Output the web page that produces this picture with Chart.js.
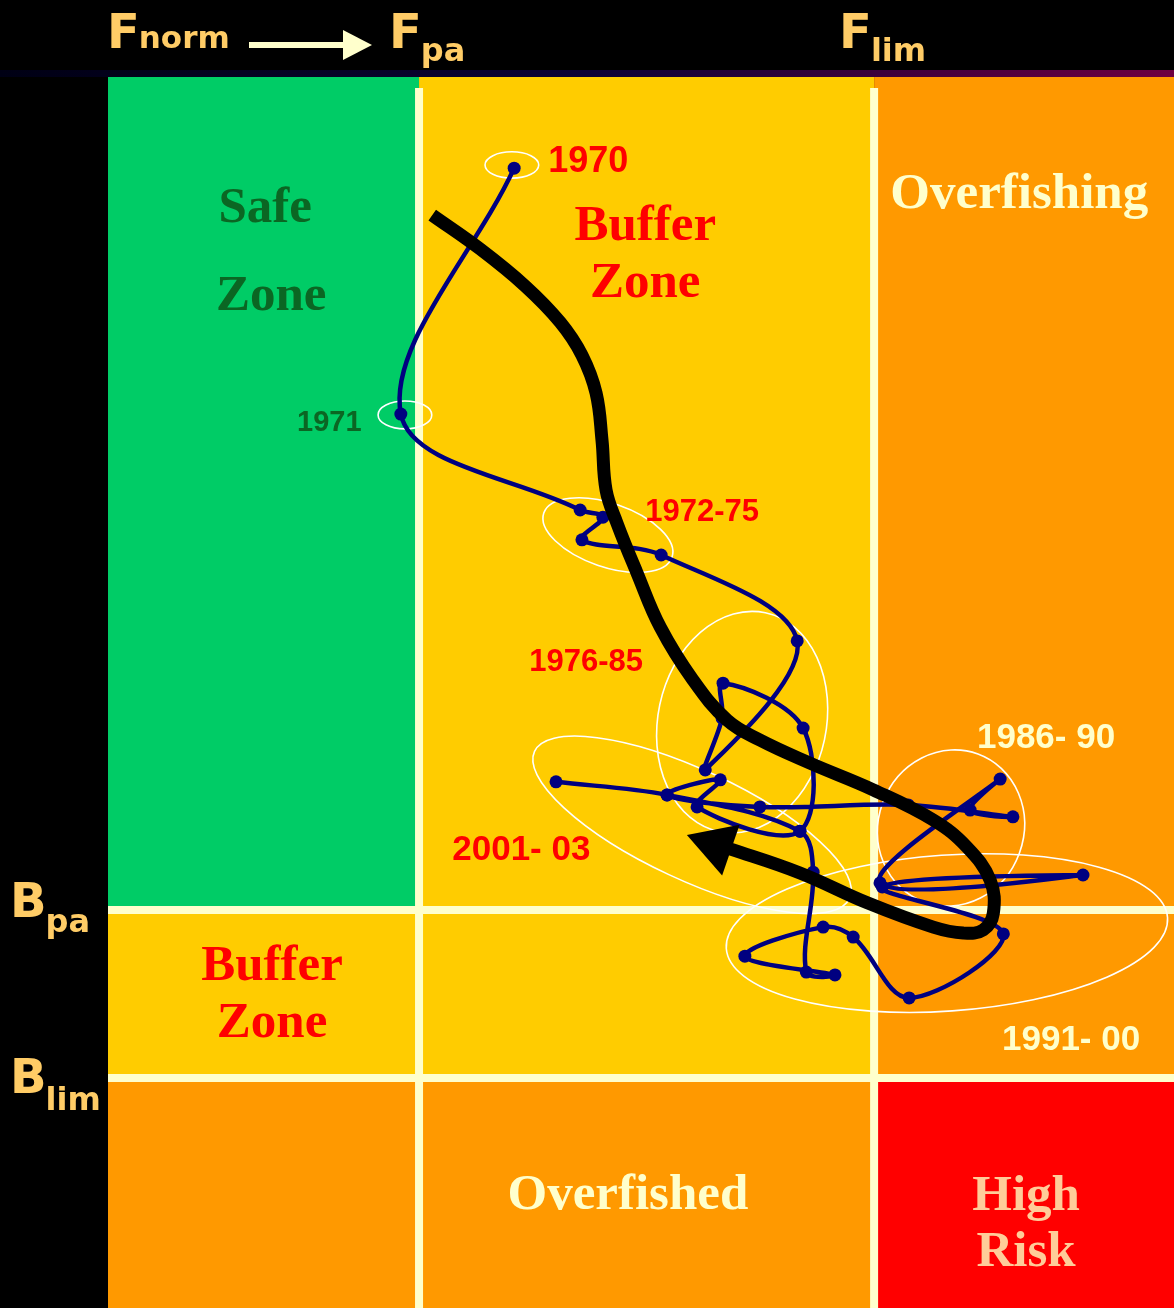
<!DOCTYPE html>
<html>
<head>
<meta charset="utf-8">
<title>Stock trajectory against precautionary reference points</title>
<script src="https://cdn.jsdelivr.net/npm/chart.js@4.4.1/dist/chart.umd.min.js"></script>
<style>
  html, body { margin: 0; padding: 0; background: #000; }
  #wrap { width: 1174px; height: 1308px; }
</style>
</head>
<body>
<div id="wrap"><canvas id="paChart" width="1174" height="1308"></canvas></div>
<script>
// reference points (F relative to Fpa, B relative to Bpa)
const F_PA = 1.0;
const F_LIM = 2.0;
const B_PA = 1.0;
const B_LIM = 0.578;
const F_RANGE = [0.3165, 2.659];
const B_RANGE = [0, 3.093];

// yearly stock trajectory
const years = [1970, 1971, 1972, 1973, 1974, 1975, 1976, 1977, 1978, 1979,
  1980, 1981, 1982, 1983, 1984, 1985, 1986, 1987, 1988, 1989,
  1990, 1991, 1992, 1993, 1994, 1995, 1996, 1997, 1998, 1999,
  2000, 2001, 2002, 2003];
const fishing = [1.209, 0.960, 1.354, 1.404, 1.358, 1.532, 1.831, 1.629, 1.666, 1.668,
  1.844, 1.837, 1.611, 1.662, 1.545, 1.749, 2.075, 2.305, 2.211, 2.277,
  2.013, 2.459, 2.018, 2.284, 2.077, 1.954, 1.888, 1.716, 1.914, 1.851,
  1.866, 1.837, 1.545, 1.301];
const biomass = [2.864, 2.246, 2.005, 1.987, 1.930, 1.892, 1.676, 1.352, 1.482, 1.570,
  1.457, 1.198, 1.259, 1.327, 1.289, 1.259, 1.264, 1.234, 1.251, 1.329,
  1.068, 1.088, 1.058, 0.940, 0.779, 0.932, 0.957, 0.884, 0.837, 0.844,
  1.095, 1.198, 1.289, 1.322];

// overall trend (thick black arrow)
const trendF = [1.029, 1.134, 1.233, 1.310, 1.358, 1.389, 1.402, 1.411, 1.435, 1.479,
  1.530, 1.602, 1.677, 1.749, 1.859, 1.998, 2.130, 2.204, 2.255, 2.262,
  2.240, 2.196, 2.130, 1.985, 1.837, 1.690, 1.653];
const trendB = [2.746, 2.661, 2.568, 2.477, 2.394, 2.299, 2.181, 2.055, 1.972, 1.847,
  1.711, 1.578, 1.477, 1.427, 1.369, 1.302, 1.226, 1.158, 1.075, 0.992,
  0.950, 0.942, 0.957, 1.018, 1.093, 1.151, 1.163];

// period groups (white ellipses) and their labels
const groupNames = ["1970", "1971", "1972-75", "1976-85", "2001- 03", "1986- 90", "1991- 00"];
const groupF = [1.204, 0.969, 1.415, 1.710, 1.600, 2.169, 2.160];
const groupB = [2.872, 2.244, 1.942, 1.472, 1.214, 1.206, 0.942];
const groupSpanF = [0.059, 0.059, 0.149, 0.185, 0.382, 0.160, 0.486];
const groupSpanB = [0.033, 0.035, 0.080, 0.281, 0.138, 0.198, 0.196];
const groupTilt = [0, 0, 19, 12, 25, 20, -4];
const groupLabelF = [1.284, 0.732, 1.497, 1.242, 1.073, 2.226, 2.281];
const groupLabelB = [2.854, 2.204, 1.977, 1.600, 1.126, 1.407, 0.648];
const groupLabelColor = ["#ff0000", "#0b6623", "#ff0000", "#ff0000", "#ff0000", "#ffffcc", "#ffffcc"];
const groupLabelSize = [36, 29, 31, 31, 35, 35, 35];

// zone names
const zoneText = ["Safe", "Zone", "Buffer", "Zone", "Overfishing", "Buffer", "Zone", "Overfished", "High", "Risk"];
const zoneTextF = [0.662, 0.675, 1.497, 1.497, 2.319, 0.677, 0.677, 1.459, 2.334, 2.334];
const zoneTextB = [2.729, 2.508, 2.683, 2.540, 2.764, 0.824, 0.681, 0.249, 0.246, 0.106];
const zoneTextColor = ["#0b6623", "#0b6623", "#ff0000", "#ff0000", "#ffffcc",
  "#ff0000", "#ff0000", "#ffffcc", "#ffcc99", "#ffcc99"];

const zoneColors = [
  ["#00cc66", "#ffcc00", "#ff9900"],
  ["#ffcc00", "#ffcc00", "#ff9900"],
  ["#ff9900", "#ff9900", "#ff0000"],
];

const LABEL_COLOR = "#ffcc66";
const LINE_COLOR = "#ffffcc";

function drawSub(ctx, main, sub, x, base, subBase, mainSize, subSize) {
  ctx.font = `bold ${mainSize}px "DejaVu Sans"`;
  ctx.fillText(main, x, base);
  const w = ctx.measureText(main).width;
  ctx.font = `bold ${subSize}px "DejaVu Sans"`;
  ctx.fillText(sub, x + w - 1, subBase);
}

const zonePlugin = {
  id: "zones",
  beforeDraw(chart) {
    const { ctx, chartArea: a, scales: { x, y } } = chart;
    ctx.save();
    const band = ctx.createLinearGradient(0, 0, chart.width, 0);
    band.addColorStop(0, "#000014");
    band.addColorStop(0.5, "#0c0036");
    band.addColorStop(1, "#6e0040");
    ctx.fillStyle = band;
    ctx.fillRect(0, a.top - 7, chart.width, 7);

    const cols = [a.left, x.getPixelForValue(F_PA), x.getPixelForValue(F_LIM), a.right];
    const rows = [a.top, y.getPixelForValue(B_PA), y.getPixelForValue(B_LIM), a.bottom];
    for (let r = 0; r < 3; r++) {
      for (let c = 0; c < 3; c++) {
        ctx.fillStyle = zoneColors[r][c];
        ctx.fillRect(cols[c], rows[r], cols[c + 1] - cols[c], rows[r + 1] - rows[r]);
      }
    }
    ctx.strokeStyle = LINE_COLOR;
    ctx.lineWidth = 8;
    ctx.beginPath();
    [cols[1], cols[2]].forEach((px) => {
      ctx.moveTo(px, a.top + 11);
      ctx.lineTo(px, a.bottom);
    });
    [rows[1], rows[2]].forEach((py) => {
      ctx.moveTo(a.left, py);
      ctx.lineTo(a.right, py);
    });
    ctx.stroke();

    // zone names
    ctx.textAlign = "center";
    ctx.textBaseline = "alphabetic";
    ctx.font = 'bold 51px "Liberation Serif"';
    zoneText.forEach((t, i) => {
      ctx.fillStyle = zoneTextColor[i];
      ctx.fillText(t, x.getPixelForValue(zoneTextF[i]), y.getPixelForValue(zoneTextB[i]));
    });
    ctx.restore();
  },
  beforeDatasetsDraw(chart) {
    const { ctx, scales: { x, y } } = chart;
    ctx.save();
    ctx.strokeStyle = "#ffffff";
    ctx.lineWidth = 1.6;
    groupF.forEach((f, i) => {
      const cx = x.getPixelForValue(f);
      const cy = y.getPixelForValue(groupB[i]);
      const rx = Math.abs(x.getPixelForValue(f + groupSpanF[i]) - cx);
      const ry = Math.abs(y.getPixelForValue(groupB[i] + groupSpanB[i]) - cy);
      ctx.beginPath();
      ctx.ellipse(cx, cy, rx, ry, (groupTilt[i] * Math.PI) / 180, 0, Math.PI * 2);
      ctx.stroke();
    });
    ctx.restore();
  },
  afterDraw(chart) {
    const { ctx, chartArea: a, scales: { x, y } } = chart;
    ctx.save();
    ctx.textBaseline = "alphabetic";
    ctx.textAlign = "left";

    // period labels
    groupNames.forEach((t, i) => {
      ctx.font = `bold ${groupLabelSize[i]}px "Liberation Sans"`;
      ctx.fillStyle = groupLabelColor[i];
      ctx.fillText(t, x.getPixelForValue(groupLabelF[i]), y.getPixelForValue(groupLabelB[i]));
    });

    // F reference labels along the top
    ctx.fillStyle = LABEL_COLOR;
    const xPa = x.getPixelForValue(F_PA);
    const xLim = x.getPixelForValue(F_LIM);
    drawSub(ctx, "F", "norm", a.left - 1, 48, 48, 48, 31);
    drawSub(ctx, "F", "pa", xPa - 30, 48, 61, 48, 32);
    drawSub(ctx, "F", "lim", xLim - 35, 48, 61, 48, 32);

    // arrow Fnorm -> Fpa
    ctx.fillStyle = LINE_COLOR;
    ctx.fillRect(249, 42, 96, 6);
    ctx.beginPath();
    ctx.moveTo(343, 30);
    ctx.lineTo(372, 45);
    ctx.lineTo(343, 60);
    ctx.closePath();
    ctx.fill();

    // B reference labels on the left
    ctx.fillStyle = LABEL_COLOR;
    const yPa = y.getPixelForValue(B_PA);
    const yLim = y.getPixelForValue(B_LIM);
    drawSub(ctx, "B", "pa", 10, yPa + 7, yPa + 22, 48, 32);
    drawSub(ctx, "B", "lim", 10, yLim + 15, yLim + 32, 48, 32);
    ctx.restore();
  },
};

const lastTrend = trendF.length - 1;

new Chart(document.getElementById("paChart"), {
  type: "scatter",
  data: {
    datasets: [
      {
        label: "Stock trajectory",
        data: years.map((yr, i) => ({ x: fishing[i], y: biomass[i] })),
        showLine: true,
        borderColor: "#000080",
        borderWidth: 4.5,
        tension: 0.35,
        pointRadius: 6.5,
        pointBackgroundColor: "#000080",
        pointBorderWidth: 0,
        order: 2,
      },
      {
        label: "Trend",
        data: trendF.map((f, i) => ({ x: f, y: trendB[i] })),
        showLine: true,
        borderColor: "#000000",
        borderWidth: 13,
        tension: 0.4,
        pointStyle: "triangle",
        pointRotation: -71,
        pointRadius: (c) => (c.dataIndex === lastTrend ? 31 : 0),
        pointBackgroundColor: "#000000",
        pointBorderWidth: 0,
        order: 1,
      },
    ],
  },
  options: {
    responsive: false,
    animation: false,
    layout: { autoPadding: false, padding: { left: 108, top: 77, right: 0, bottom: 0 } },
    scales: {
      x: { type: "linear", min: F_RANGE[0], max: F_RANGE[1], display: false },
      y: { type: "linear", min: B_RANGE[0], max: B_RANGE[1], display: false },
    },
    plugins: {
      legend: { display: false },
      tooltip: { enabled: false },
    },
  },
  plugins: [zonePlugin],
});
</script>
</body>
</html>
